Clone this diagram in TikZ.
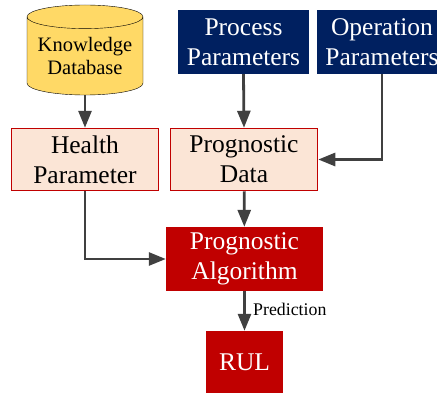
\documentclass[tikz,border=0pt]{standalone}
\usepackage{fontspec}
\setmainfont{Liberation Serif}
\usetikzlibrary{shapes.geometric, arrows.meta}
\definecolor{navy}{HTML}{002060}
\definecolor{darkred}{HTML}{C00000}
\definecolor{lightpink}{HTML}{FBE5D6}
\definecolor{gold}{HTML}{FFD966}
\definecolor{arrowgray}{HTML}{404040}
\begin{document}
\begin{tikzpicture}[x=1pt, y=-1pt,
    param node/.style={rectangle, fill=navy, text=white, minimum width=131pt,
                       minimum height=64pt, align=center, inner sep=0pt,
                       font=\fontsize{25.5}{30}\selectfont},
    data node/.style={rectangle, draw=darkred, line width=1.5pt, fill=lightpink,
                      minimum width=147pt, minimum height=62pt, align=center,
                      inner sep=0pt, font=\fontsize{25.5}{30}\selectfont},
    algo node/.style={rectangle, fill=darkred, text=white, align=center,
                      inner sep=0pt, font=\fontsize{25.5}{30}\selectfont},
    flow/.style={draw=arrowgray, line width=2.8pt,
                 -{Triangle[length=17pt, width=13pt]}}]
    \useasboundingbox (0,0) rectangle (437,392);

    \node[cylinder, shape border rotate=90, aspect=0.25, draw, fill=gold,
          minimum width=116pt, minimum height=90pt, inner sep=0pt, align=center,
          font=\fontsize{20.5}{23}\selectfont] (kdb) at (85,56) {Knowledge\\Database};
    \node[param node] (proc) at (243.5,42)  {Process\\Parameters};
    \node[param node] (oper) at (382,42)    {Operation\\Parameters};
    \node[data node] (health) at (85,159.5) {Health\\Parameter};
    \node[data node] (pdata) at (244,159.5) {Prognostic\\Data};
    \node[algo node, minimum width=157pt, minimum height=64pt] (algo) at (244.5,259)
        {Prognostic\\Algorithm};
    \node[algo node, minimum width=77pt, minimum height=63pt] (rul) at (244.5,362.5) {RUL};

    \draw[flow] (kdb) -- (health);
    \draw[flow] (proc.south) -- (pdata.north);
    \draw[flow] (oper.south) |- (pdata.east);
    \draw[flow] (pdata) -- (algo);
    \draw[flow] (health.south) |- (algo.west);
    \draw[flow] (algo) -- node[right, text=black, xshift=4pt, yshift=2pt,
        font=\fontsize{17.8}{20}\selectfont] {Prediction} (rul);
\end{tikzpicture}
\end{document}
